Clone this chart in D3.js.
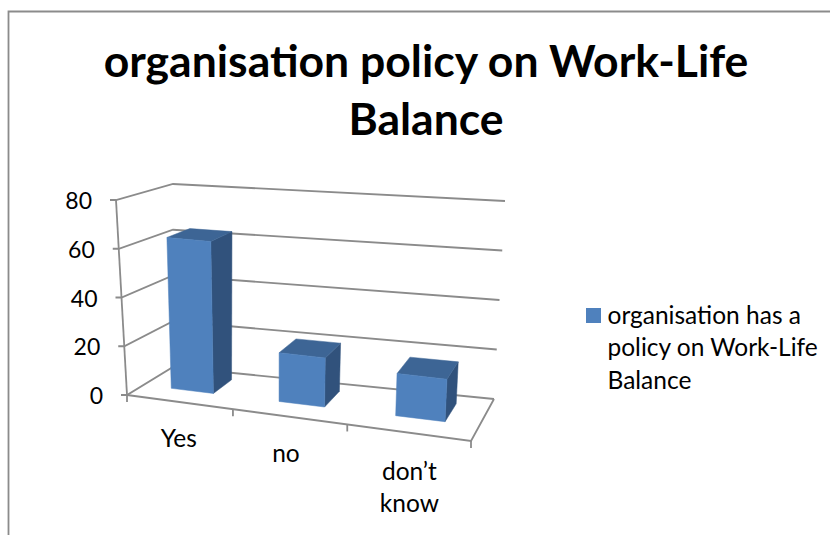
<!DOCTYPE html>
<html><head><meta charset="utf-8">
<script src="https://cdn.jsdelivr.net/npm/d3@7/dist/d3.min.js"></script>
<style>html,body{margin:0;padding:0;background:#fff}svg{display:block}text{font-family:Lato,"Open Sans",sans-serif;fill:#000}</style>
</head><body><svg id="c" width="830" height="535"></svg>
<script>
const categories = ["Yes", "no", "don’t know"];
const seriesName = "organisation has a policy on Work-Life Balance";
const values = [63, 20, 17];
const yTicks = [0, 20, 40, 60, 80];
const titleLines = ["organisation policy on Work-Life", "Balance"];
const legendLines = ["organisation has a", "policy on Work-Life", "Balance"];

const svg = d3.select("#c");
const GRID = "#8b8b8b", FRONT = "#4f81bd", TOP = "#3d6595", SIDE = "#31527c";

// box corners on the page: front-left, front-right, back-right, back-left
const floorQuad = [[127,395],[471,441],[494,399],[173,367]];
const roofQuad  = [[116,200],[482,238],[505,201],[173,184]];
function bilinear(q){
  return (s,t)=>[0,1].map(k=>(1-t)*((1-s)*q[0][k]+s*q[1][k])+t*((1-s)*q[3][k]+s*q[2][k]));
}
const hFloor = bilinear(floorQuad), hRoof = bilinear(roofQuad);
const persp = 0.89;
const warp = s => persp*s/(1-(1-persp)*s);
const y = d3.scaleLinear().domain([0,80]).range([0,1]);
const x = d3.scaleBand().domain(categories).range([0,1]).paddingInner(0.6).paddingOuter(0.27);
const xEdge = d3.scalePoint().domain(d3.range(categories.length+1)).range([0,1]);
const depthFront = 0.36, depthBack = 0.80;
function P(s,t,val){
  const w=warp(s), a=hFloor(w,t), b=hRoof(w,t), k=y(val);
  return [a[0]+(b[0]-a[0])*k, a[1]+(b[1]-a[1])*k];
}
const line = d3.line();
function stroke(pts){ svg.append("path").attr("d",line(pts)).attr("fill","none").attr("stroke",GRID).attr("stroke-width",1.8); }
function poly(pts,fill){ svg.append("path").attr("d",line(pts)+"Z").attr("fill",fill).attr("stroke",fill).attr("stroke-width",0.5); }

// chart frame (cropped on right and bottom)
stroke([[8.5,535],[8.5,11.5],[830,11.5]]);

// walls
yTicks.forEach(v=>{
  stroke([[P(0,0,v)[0]-6,P(0,0,v)[1]],P(0,0,v),P(0,1,v),P(1,1,v)]);
  const p=P(0,0,v);
  svg.append("text").attr("x",p[0]-24).attr("y",p[1]+9).attr("text-anchor","end").attr("font-size",23).text(v);
});
stroke([P(0,0,80),P(0,0,0)]);
// floor
stroke([P(0,0,0),P(1,0,0),P(1,1,0)]);
xEdge.domain().forEach(i=>{
  const p=P(xEdge(i),0,0);
  stroke([p,[p[0],p[1]+7]]);
});

// bars
categories.forEach((c,i)=>{
  const s0=x(c), s1=x(c)+x.bandwidth(), v=values[i];
  const a=P(s0,depthFront,0), b=P(s1,depthFront,0), c2=P(s1,depthFront,v), d=P(s0,depthFront,v);
  const e=P(s1,depthBack,0), f=P(s1,depthBack,v), g=P(s0,depthBack,v);
  poly([b,e,f,c2],SIDE);
  poly([d,c2,f,g],TOP);
  poly([a,b,c2,d],FRONT);
});

// category labels
const labelNudge = [[2,45],[-3,45],[-1,47]];
categories.forEach((c,i)=>{
  const p=P(x(c)+x.bandwidth()/2,0,0);
  const words = c.split(" ");
  words.forEach((w,j)=>{
    svg.append("text").attr("x",p[0]+labelNudge[i][0]).attr("y",p[1]+labelNudge[i][1]+(j*32.4)).attr("text-anchor","middle").attr("font-size",24.5).text(w);
  });
});

// title
titleLines.forEach((t,i)=>{
  svg.append("text").attr("x",426).attr("y",77+i*58).attr("text-anchor","middle").attr("font-size",44.5).attr("font-weight",700).text(t);
});

// legend
svg.append("rect").attr("x",586).attr("y",308).attr("width",15).attr("height",15).attr("fill",FRONT);
legendLines.forEach((t,i)=>{
  svg.append("text").attr("x",607.5).attr("y",323.5+i*32.75).attr("font-size",24.5).text(t);
});
</script></body></html>
